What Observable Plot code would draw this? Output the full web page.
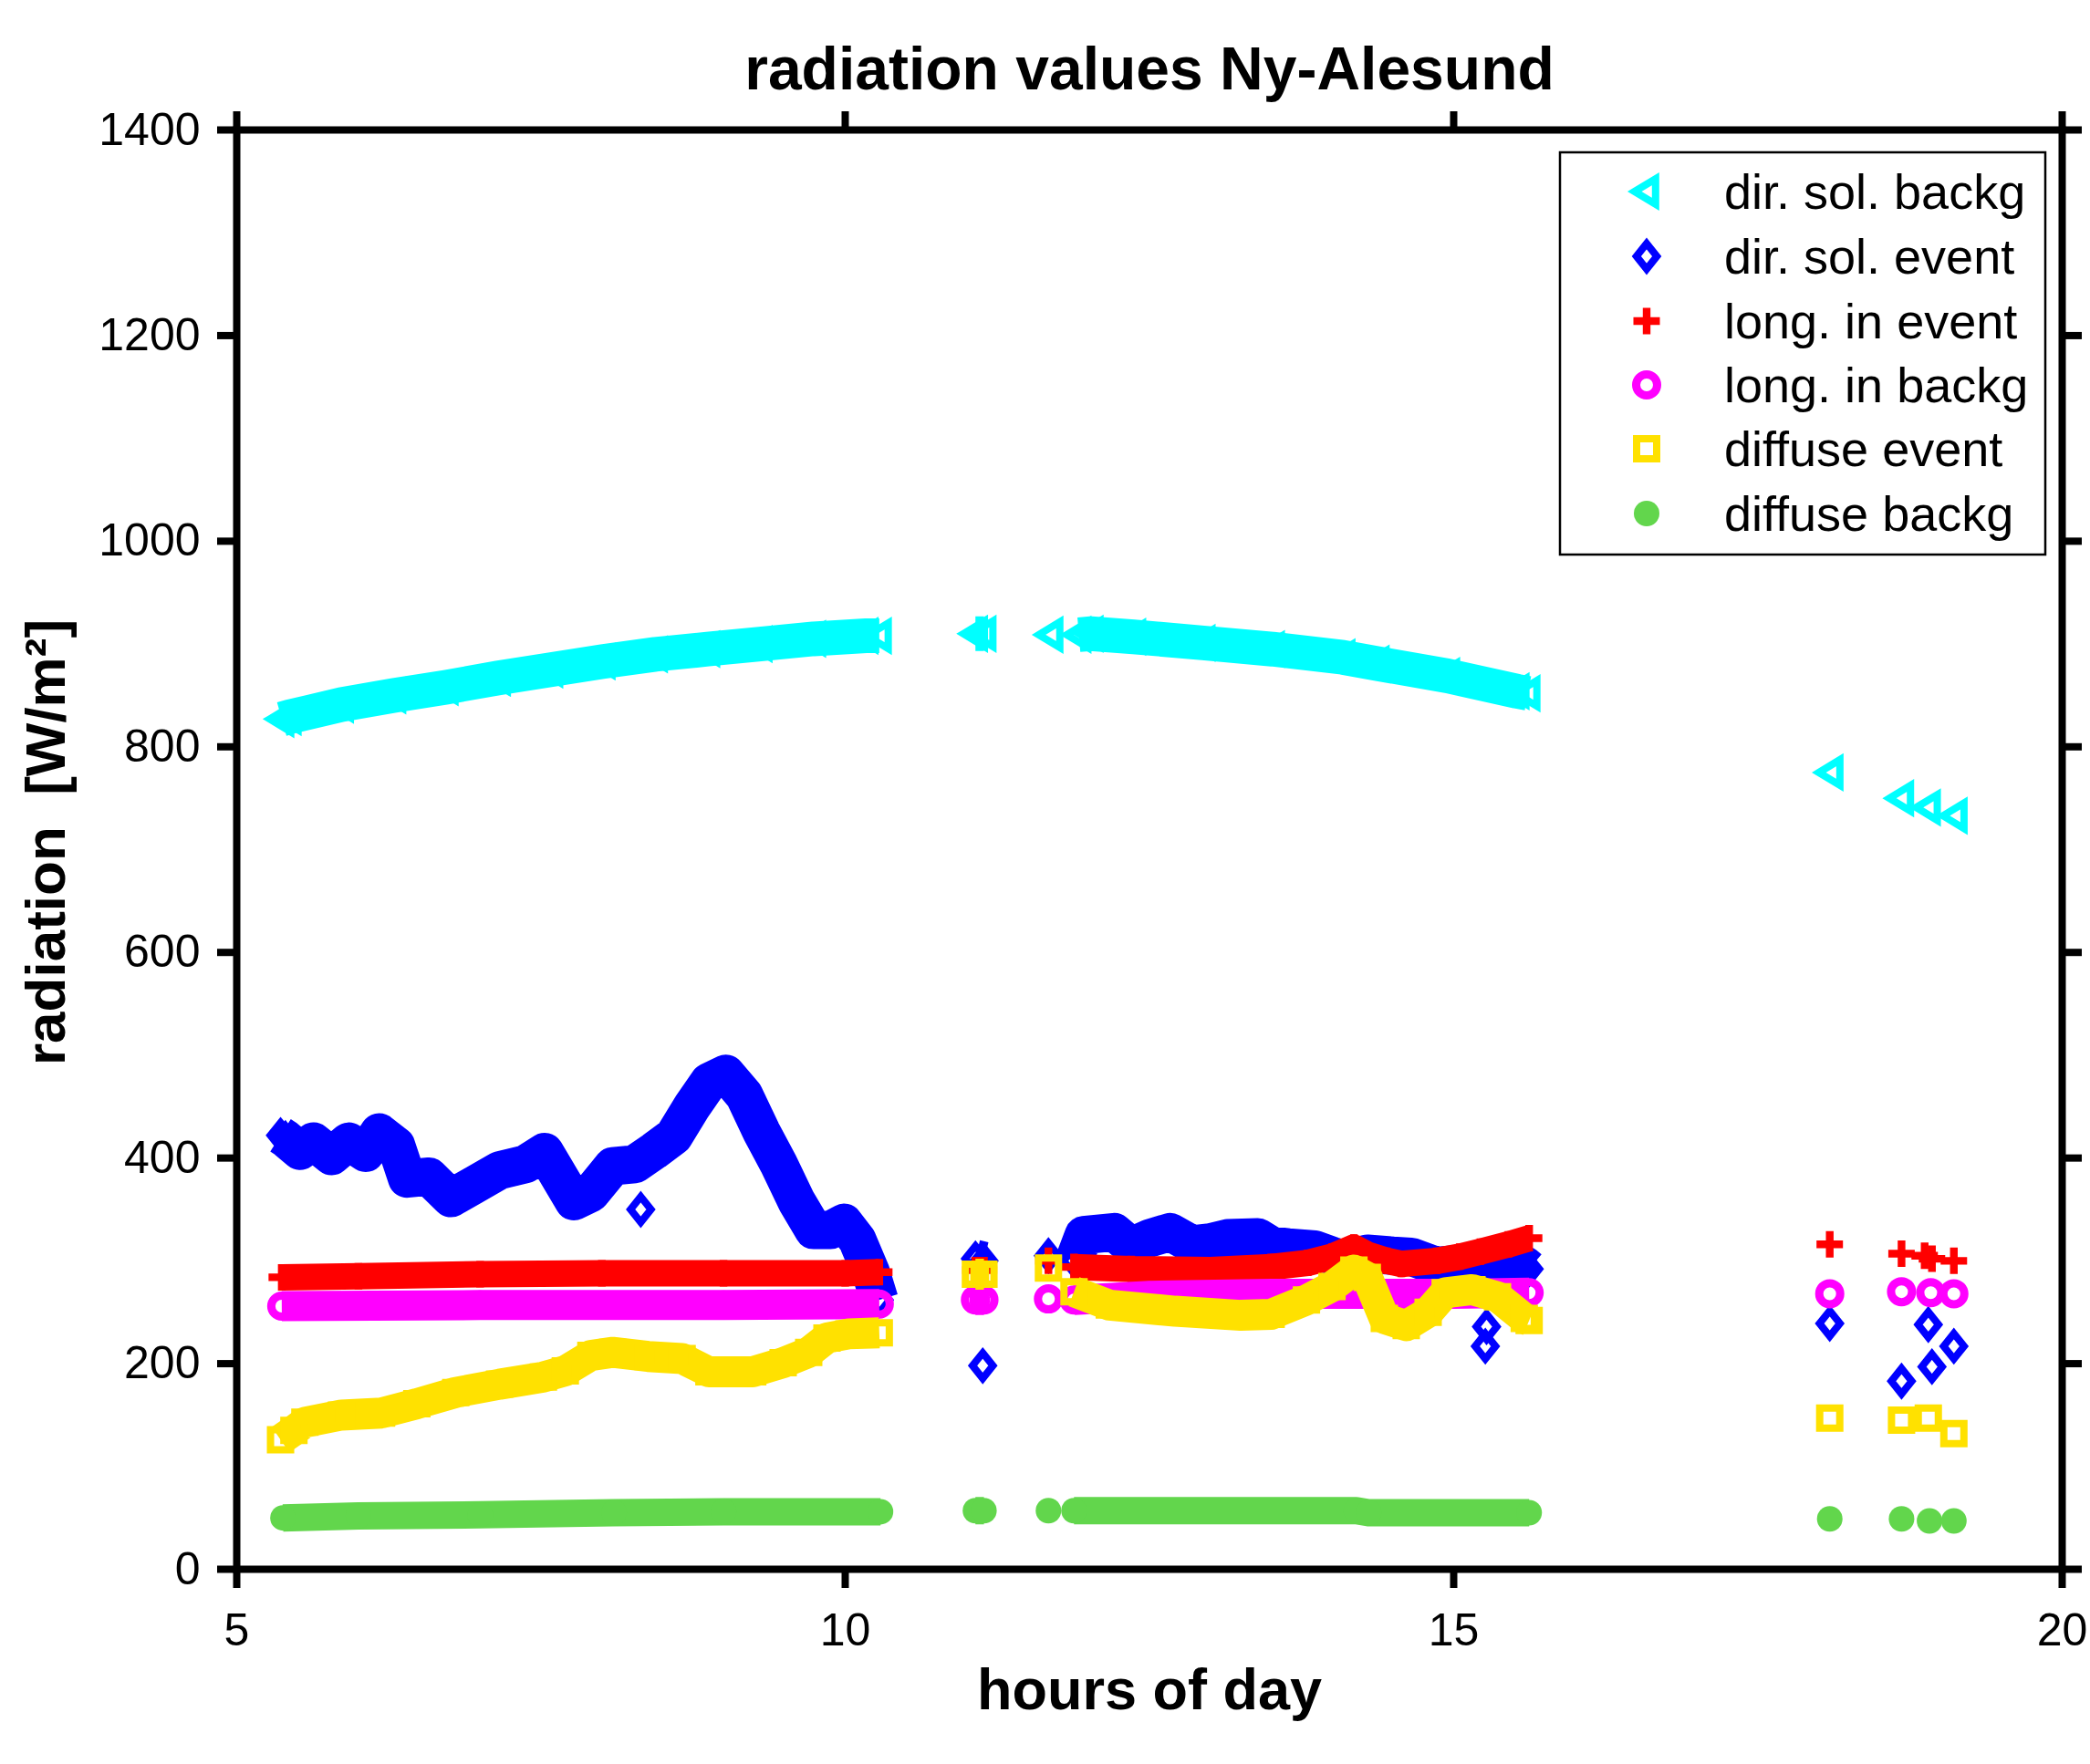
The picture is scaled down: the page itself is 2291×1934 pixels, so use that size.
<!DOCTYPE html>
<html><head><meta charset="utf-8">
<script src="https://cdn.jsdelivr.net/npm/d3@7"></script>
<script src="https://cdn.jsdelivr.net/npm/@observablehq/plot@0.6"></script>
<style>body{margin:0;background:#fff}#chart svg{display:block}</style>
</head><body><div id="chart"></div>
<script>
// ---------- data (hours of day, radiation W/m²); null separates runs ----------
const xTicks = [5, 10, 15, 20];
const yTicks = [0, 200, 400, 600, 800, 1000, 1200, 1400];
const seriesNames = ["dir. sol. backg", "dir. sol. event", "long. in event", "long. in backg", "diffuse event", "diffuse backg"];

const cyanHours  = [5.37, 5.43, 5.86, 6.29, 6.72, 7.15, 7.58, 8.01, 8.44, 8.87, 9.30, 9.74, 10.17, 10.28, null, 11.07, 11.14, null, 11.69, null, 11.92, 12.02, 12.37, 12.94, 13.51, 14.09, 14.37, 14.95, 15.52, 15.61, null, 18.10, null, 18.68, null, 18.90, null, 19.12];
const cyanValues = [827, 829, 841, 850, 858, 867, 875, 883, 890, 895, 900, 905, 908, 908, null, 910, 910, null, 909, null, 909, 910, 907, 901, 895, 887, 881, 869, 854, 852, null, 775, null, 750, null, 741, null, 733];

const blueHours  = [5.36, 5.40, 5.52, 5.63, 5.78, 5.92, 6.06, 6.17, 6.31, 6.40, 6.58, 6.76, 6.94, 7.16, 7.37, 7.53, 7.66, 7.77, 7.91, 8.09, 8.27, 8.43, 8.59, 8.74, 8.88, 9.02, 9.17, 9.31, 9.45, 9.60, 9.74, 9.88, 9.99, 10.10, 10.21, 10.28, null, 8.32, null, 11.07, 11.14, null, 11.13, null, 11.67, null, 11.88, 11.96, 12.21, 12.35, 12.50, 12.67, 12.85, 13.00, 13.14, 13.39, 13.50, 13.64, 13.86, 14.00, 14.11, 14.29, 14.50, 14.65, 14.86, 15.05, 15.22, 15.40, 15.58, 15.62, null, 15.27, null, 15.26, null, 18.09, null, 18.68, null, 18.90, null, 18.93, null, 19.11];
const blueValues = [422, 419, 407, 416, 402, 416, 405, 425, 412, 380, 382, 361, 373, 388, 394, 406, 380, 358, 366, 392, 394, 407, 421, 450, 474, 482, 461, 426, 395, 358, 330, 330, 337, 320, 289, 262, null, 350, null, 302, 300, null, 198, null, 305, null, 300, 325, 328, 314, 322, 328, 316, 318, 322, 323, 315, 313, 311, 305, 301, 307, 305, 304, 295, 297, 299, 298, 296, 292, null, 236, null, 217, null, 239, null, 183, null, 238, null, 197, null, 217];

const redHours  = [5.37, 6.0, 7.0, 8.0, 9.0, 10.0, 10.28, null, 11.07, 11.14, null, 11.67, null, 11.88, 12.35, 13.0, 13.5, 13.8, 14.0, 14.18, 14.29, 14.45, 14.57, 14.86, 15.05, 15.22, 15.45, 15.62, null, 18.09, null, 18.68, null, 18.87, null, 18.93, null, 19.11];
const redValues = [284, 285, 287, 288, 288, 288, 289, null, 291, 291, null, 300, null, 294, 292, 291, 294, 298, 304, 313, 306, 300, 297, 300, 304, 309, 316, 322, null, 316, null, 307, null, 305, null, 302, null, 300];

const magentaHours  = [5.37, 7.0, 9.0, 10.28, null, 11.07, 11.14, null, 11.67, null, 11.88, 12.5, 13.5, 14.5, 15.0, 15.62, null, 18.09, null, 18.68, null, 18.92, null, 19.11];
const magentaValues = [256, 257, 257, 258, null, 262, 262, null, 263, null, 262, 266, 268, 268, 268, 269, null, 268, null, 270, null, 269, null, 268];

const yellowHours  = [5.36, 5.47, 5.56, 5.86, 6.19, 6.48, 6.80, 7.16, 7.52, 7.70, 7.91, 8.09, 8.38, 8.66, 8.88, 9.24, 9.49, 9.70, 9.85, 10.03, 10.28, null, 11.07, 11.14, null, 11.67, null, 11.88, 12.17, 12.71, 13.25, 13.50, 13.79, 14.00, 14.18, 14.29, 14.43, 14.61, 14.79, 14.93, 15.15, 15.36, 15.58, 15.62, null, 18.09, null, 18.68, null, 18.90, null, 19.11];
const yellowValues = [126, 135, 143, 150, 152, 161, 172, 180, 187, 193, 208, 211, 207, 205, 192, 192, 201, 211, 225, 229, 230, null, 287, 287, null, 293, null, 270, 257, 251, 247, 248, 262, 275, 291, 284, 244, 237, 250, 269, 272, 265, 244, 242, null, 147, null, 145, null, 147, null, 132];

const greenHours  = [5.38, 6.0, 7.0, 8.1, 9.0, 10.29, null, 11.07, 11.14, null, 11.67, null, 11.88, 14.2, 14.3, 15.62, null, 18.09, null, 18.68, null, 18.91, null, 19.11];
const greenValues = [50, 52, 53, 55, 56, 56, null, 57, 57, null, 57, null, 57, 57, 55, 55, null, 49, null, 49, null, 47, null, 47];

// ---------- marker shapes (styling) ----------
const rad = (size) => Math.sqrt(size / Math.PI);
const symLeftTriangle = {draw(c, size) { const r = rad(size); c.moveTo(-0.95 * r, 0); c.lineTo(0.7 * r, -r); c.lineTo(0.7 * r, r); c.closePath(); }};
const symDiamond = {draw(c, size) { const r = rad(size); c.moveTo(0, -r); c.lineTo(0.8 * r, 0); c.lineTo(0, r); c.lineTo(-0.8 * r, 0); c.closePath(); }};
const symPlus = {draw(c, size) { const r = rad(size), t = 0.29 * r;
  c.moveTo(-t, -r); c.lineTo(t, -r); c.lineTo(t, -t); c.lineTo(r, -t); c.lineTo(r, t); c.lineTo(t, t);
  c.lineTo(t, r); c.lineTo(-t, r); c.lineTo(-t, t); c.lineTo(-r, t); c.lineTo(-r, -t); c.lineTo(-t, -t); c.closePath(); }};
const symCircle = {draw(c, size) { const r = rad(size); c.moveTo(r, 0); c.arc(0, 0, r, 0, 2 * Math.PI); c.closePath(); }};
const symSquare = {draw(c, size) { const r = rad(size); c.moveTo(-r, -r); c.lineTo(r, -r); c.lineTo(r, r); c.lineTo(-r, r); c.closePath(); }};

const series = [
  {name: seriesNames[0], hours: cyanHours, values: cyanValues},
  {name: seriesNames[1], hours: blueHours, values: blueValues},
  {name: seriesNames[2], hours: redHours, values: redValues},
  {name: seriesNames[3], hours: magentaHours, values: magentaValues},
  {name: seriesNames[4], hours: yellowHours, values: yellowValues},
  {name: seriesNames[5], hours: greenHours, values: greenValues}
];
const styles = {
  "dir. sol. backg": {color: "#00ffff", symbol: symLeftTriangle, r: 14, filled: false, sw: 8, lw: 38},
  "dir. sol. event": {color: "#0000ff", symbol: symDiamond, r: 14, filled: false, sw: 8, lw: 42},
  "long. in event":  {color: "#ff0000", symbol: symPlus, r: 14.5, filled: true, sw: 0, lw: 29},
  "long. in backg":  {color: "#ff00ff", symbol: symCircle, r: 11.5, filled: false, sw: 9, lw: 33},
  "diffuse event":   {color: "#ffe100", symbol: symSquare, r: 11, filled: false, sw: 8, lw: 34},
  "diffuse backg":   {color: "#62d64c", symbol: symCircle, r: 14, filled: true, sw: 0, lw: 30}
};

const FONT = "'Liberation Sans', Arial, Helvetica, sans-serif";

const dataMarks = series.flatMap((s) => {
  const st = styles[s.name];
  const rows = s.hours.map((h, i) => ({hour: h, value: s.values[i]}));
  return [
    Plot.line(rows, {x: "hour", y: "value", stroke: st.color, strokeWidth: st.lw, strokeLinejoin: "round", strokeLinecap: "butt"}),
    Plot.dot(rows, {x: "hour", y: "value", symbol: st.symbol, r: st.r,
      fill: st.filled ? st.color : "none", stroke: st.filled ? "none" : st.color, strokeWidth: st.sw})
  ];
});

const plot = Plot.plot({
  width: 2291, height: 1934,
  marginLeft: 259, marginRight: 31, marginTop: 142, marginBottom: 214,
  style: {fontFamily: FONT, background: "white", color: "black", overflow: "visible"},
  x: {domain: [5, 20]},
  y: {domain: [0, 1400]},
  marks: [
    ...dataMarks,
    Plot.axisX({ticks: xTicks, anchor: "bottom", tickSize: 21, tickPadding: 27, strokeWidth: 8, fontSize: 50, label: null, tickFormat: (d) => String(d)}),
    Plot.axisX({ticks: xTicks, anchor: "top", tickSize: 21, strokeWidth: 8, label: null, tickFormat: () => ""}),
    Plot.axisY({ticks: yTicks, anchor: "left", tickSize: 21, tickPadding: 19, strokeWidth: 8, fontSize: 50, label: null, tickFormat: (d) => String(d)}),
    Plot.axisY({ticks: yTicks, anchor: "right", tickSize: 21, strokeWidth: 8, label: null, tickFormat: () => ""}),
    Plot.frame({stroke: "black", strokeWidth: 8}),
    Plot.text(["radiation values Ny-Alesund"], {text: (d) => d, frameAnchor: "top", dy: -66, lineAnchor: "middle", textAnchor: "middle", fontSize: 66, fontWeight: "bold", fill: "black"}),
    Plot.text(["hours of day"], {text: (d) => d, frameAnchor: "bottom", dy: 133, lineAnchor: "middle", textAnchor: "middle", fontSize: 63, fontWeight: "bold", fill: "black"}),
    Plot.text(["radiation\u00a0 [W/m\u00b2]"], {text: (d) => d, frameAnchor: "left", dx: -208, dy: -8, rotate: -90, lineAnchor: "middle", textAnchor: "middle", fontSize: 62, fontWeight: "bold", fill: "black"})
  ]
});

// ---------- legend ----------
const svg = d3.select(plot);
const lg = svg.append("g").attr("text-anchor", "start");
lg.append("rect").attr("x", 1710).attr("y", 167).attr("width", 532).attr("height", 441)
  .attr("fill", "white").attr("stroke", "black").attr("stroke-width", 2.5);
const rowY = [210, 281, 352, 422, 492, 563];
series.forEach((s, i) => {
  const st = styles[s.name];
  lg.append("path")
    .attr("d", d3.symbol(st.symbol, Math.PI * st.r * st.r)())
    .attr("transform", `translate(1805,${rowY[i]})`)
    .attr("fill", st.filled ? st.color : "none")
    .attr("stroke", st.filled ? "none" : st.color)
    .attr("stroke-width", st.sw);
  lg.append("text").attr("x", 1890).attr("y", rowY[i]).attr("dy", "0.35em")
    .attr("text-anchor", "start")
    .attr("font-size", 54).attr("font-family", FONT).attr("fill", "black").text(s.name);
});

document.getElementById("chart").appendChild(plot);
</script>
</body></html>
